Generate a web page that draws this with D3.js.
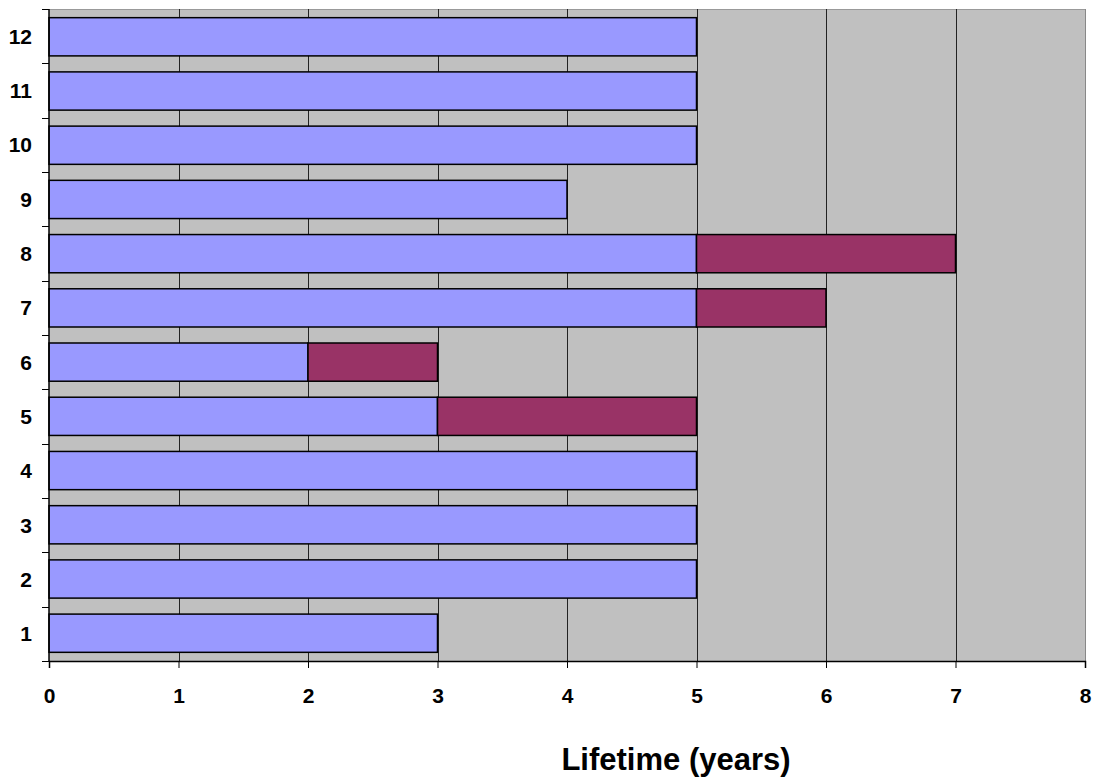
<!DOCTYPE html>
<html><head><meta charset="utf-8">
<script src="https://cdn.jsdelivr.net/npm/d3@7"></script>
<style>body{margin:0;background:#fff}svg{display:block}text{font-family:Arial,"Liberation Sans",sans-serif;font-weight:bold}</style>
</head><body><svg id="c" width="1102" height="781"></svg>
<script>
const categories = ["1","2","3","4","5","6","7","8","9","10","11","12"];
const seriesBase = [3,5,5,5,3,2,5,5,4,5,5,5];
const seriesExtra = [0,0,0,0,2,1,1,2,0,0,0,0];
const xTicks = [0,1,2,3,4,5,6,7,8];
const xTitle = "Lifetime (years)";

const svg = d3.select("#c");
const m = {l:49, t:9, r:1085, b:661};
const x = d3.scaleLinear().domain([0,8]).range([m.l, m.r]);
const y = d3.scaleBand().domain(categories.slice().reverse()).range([m.t, m.b]).paddingInner(0.295).paddingOuter(0.16);
const yb = d3.scaleBand().domain(categories.slice().reverse()).range([m.t, m.b]);

svg.append("rect").attr("x",m.l).attr("y",m.t).attr("width",m.r-m.l).attr("height",m.b-m.t).attr("fill","#C0C0C0");
svg.append("line").attr("x1",m.l).attr("x2",m.r).attr("y1",m.t+0.5).attr("y2",m.t+0.5).attr("stroke","#999").attr("stroke-width",1);
svg.append("g").selectAll("line").data(xTicks.slice(1)).join("line")
  .attr("x1",d=>Math.round(x(d))+0.5).attr("x2",d=>Math.round(x(d))+0.5)
  .attr("y1",m.t).attr("y2",m.b).attr("stroke",d=>d===8?"#888":"#222").attr("stroke-width",1);

const data = categories.map((c,i)=>({c, a:seriesBase[i], b:seriesExtra[i]}));
svg.append("g").selectAll("rect").data(data).join("rect")
  .attr("x",x(0)).attr("y",d=>y(d.c)).attr("width",d=>x(d.a)-x(0)).attr("height",y.bandwidth())
  .attr("fill","#9999FF").attr("stroke","#000").attr("stroke-width",1.5);
svg.append("g").selectAll("rect").data(data.filter(d=>d.b>0)).join("rect")
  .attr("x",d=>x(d.a)).attr("y",d=>y(d.c)).attr("width",d=>x(d.a+d.b)-x(d.a)).attr("height",y.bandwidth())
  .attr("fill","#993366").attr("stroke","#000").attr("stroke-width",1.5);

// x axis
const gx = svg.append("g").attr("transform",`translate(0,${m.b})`)
  .call(d3.axisBottom(x).tickValues(xTicks).tickFormat(d3.format("d")).tickSize(7).tickPadding(0));
gx.select(".domain").attr("stroke","#000").attr("stroke-width",1.5);
gx.selectAll(".tick line").attr("stroke","#000");
gx.selectAll(".tick text").attr("dy",null).attr("y",42).style("font-size","21px").attr("fill","#000");

// y axis
const gy = svg.append("g").attr("transform",`translate(${m.l},0)`);
gy.append("line").attr("x1",0).attr("x2",0).attr("y1",m.t).attr("y2",m.b).attr("stroke","#000").attr("stroke-width",1.5);
const bounds = categories.map(c=>yb(c)).concat([m.b]);
gy.selectAll("line.t").data(bounds).join("line").attr("class","t")
  .attr("x1",-7).attr("x2",0).attr("y1",d=>Math.round(d)+0.5).attr("y2",d=>Math.round(d)+0.5).attr("stroke","#000");
gy.selectAll("text").data(categories).join("text")
  .attr("x",-17).attr("y",c=>yb(c)+yb.bandwidth()/2).attr("dy","0.36em")
  .attr("text-anchor","end").style("font-size","21px").attr("fill","#000").text(c=>c);

svg.append("text").attr("x",676).attr("y",770).attr("text-anchor","middle").style("font-size","31px").attr("fill","#000").text(xTitle);
</script></body></html>
